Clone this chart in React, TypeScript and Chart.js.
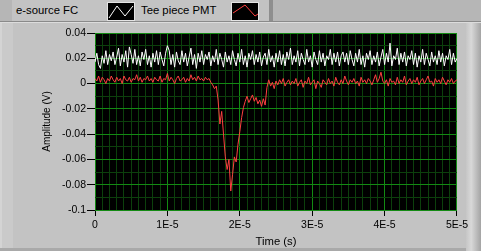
import React, { useEffect, useRef } from "react";
import { Chart, registerables } from "chart.js";

Chart.register(...registerables);

// ---- data ----
const seriesNames = ["e-source FC", "Tee piece PMT"];
const timeStep = 2.5e-7; // waveform dt (s)

const eSourceFC = [
  0.017, 0.024, 0.015, 0.012, 0.022, 0.016, 0.026, 0.015, 0.023, 0.018,
  0.025, 0.015, 0.021, 0.028, 0.014, 0.023, 0.017, 0.026, 0.013, 0.029,
  0.023, 0.016, 0.027, 0.015, 0.022, 0.014, 0.025, 0.019, 0.027, 0.015,
  0.022, 0.013, 0.024, 0.017, 0.026, 0.015, 0.025, 0.019, 0.014, 0.024,
  0.030, 0.026, 0.015, 0.023, 0.013, 0.025, 0.018, 0.015, 0.026, 0.017,
  0.024, 0.014, 0.021, 0.028, 0.015, 0.023, 0.012, 0.024, 0.017, 0.026,
  0.015, 0.023, 0.019, 0.025, 0.014, 0.022, 0.017, 0.027, 0.015, 0.024,
  0.019, 0.013, 0.025, 0.017, 0.022, 0.015, 0.026, 0.019, 0.014, 0.024,
  0.017, 0.027, 0.015, 0.022, 0.013, 0.024, 0.019, 0.026, 0.015, 0.023,
  0.017, 0.025, 0.014, 0.021, 0.024, 0.015, 0.027, 0.017, 0.022, 0.013,
  0.024, 0.017, 0.026, 0.015, 0.023, 0.014, 0.025, 0.019, 0.028, 0.015,
  0.022, 0.017, 0.026, 0.014, 0.024, 0.019, 0.015, 0.027, 0.017, 0.022,
  0.013, 0.025, 0.019, 0.015, 0.026, 0.017, 0.024, 0.014, 0.022, 0.019,
  0.027, 0.015, 0.024, 0.017, 0.025, 0.014, 0.022, 0.025, 0.017, 0.024,
  0.015, 0.026, 0.019, 0.014, 0.024, 0.017, 0.027, 0.015, 0.022, 0.013,
  0.024, 0.019, 0.026, 0.015, 0.022, 0.017, 0.025, 0.014, 0.021, 0.027,
  0.015, 0.024, 0.017, 0.032, 0.014, 0.022, 0.019, 0.028, 0.015, 0.024,
  0.017, 0.025, 0.014, 0.022, 0.019, 0.026, 0.015, 0.024, 0.013, 0.022,
  0.017, 0.027, 0.015, 0.024, 0.019, 0.014, 0.025, 0.017, 0.022, 0.015,
  0.026, 0.017, 0.024, 0.014, 0.022, 0.019, 0.027, 0.015, 0.024, 0.017,
  0.020,
];

const teePiecePMT = [
  0.004, 0.002, 0.006, 0.001, 0.005, 0.003, 0.000, 0.004, 0.002, 0.006,
  0.003, 0.001, 0.005, 0.002, 0.004, 0.000, 0.006, 0.003, 0.002, 0.005,
  0.001, 0.004, 0.003, 0.007, 0.002, 0.005, 0.001, 0.004, 0.003, 0.006,
  0.002, 0.004, 0.001, 0.005, 0.003, 0.002, 0.006, 0.001, 0.004, 0.003,
  0.008, 0.002, 0.005, 0.003, 0.000, 0.004, 0.006, 0.002, 0.003, 0.005,
  0.001, 0.004, 0.002, 0.007, 0.003, 0.005, 0.002, 0.006, 0.003, 0.004,
  0.002, 0.005, 0.003, 0.004, 0.001, -0.001, -0.004, -0.002, -0.013, -0.032,
  -0.022, -0.040, -0.058, -0.068, -0.060, -0.085, -0.072, -0.058, -0.062, -0.048,
  -0.038, -0.027, -0.019, -0.014, -0.010, -0.015, -0.012, -0.009, -0.014, -0.011,
  -0.016, -0.013, -0.018, -0.012, -0.017, -0.003, 0.003, -0.002, 0.001, -0.004,
  0.002, -0.001, 0.003, 0.000, 0.004, -0.002, 0.001, 0.003, -0.001, 0.002,
  0.000, 0.004, -0.002, 0.001, 0.003, -0.003, 0.002, 0.000, 0.005, -0.001,
  0.001, 0.003, -0.004, 0.002, 0.000, -0.003, 0.003, 0.001, -0.001, 0.004,
  0.000, 0.002, -0.002, 0.005, 0.001, -0.001, 0.003, 0.000, 0.006, 0.002,
  -0.001, 0.003, 0.001, 0.004, 0.000, 0.002, -0.002, 0.005, 0.001, 0.003,
  0.000, 0.004, 0.002, -0.001, 0.003, 0.007, 0.001, 0.004, 0.009, 0.002,
  0.000, 0.003, -0.002, 0.004, 0.001, 0.002, -0.001, 0.005, 0.000, 0.003,
  0.001, 0.006, -0.001, 0.002, 0.004, 0.000, 0.003, 0.001, 0.005, -0.001,
  0.002, 0.004, 0.000, 0.003, 0.006, 0.001, 0.002, -0.002, 0.004, 0.001,
  0.003, 0.000, 0.005, 0.002, -0.001, 0.003, 0.001, 0.004, 0.000, 0.002,
  0.003,
];

const xTickValues = [0, 1e-5, 2e-5, 3e-5, 4e-5, 5e-5];
const xTickLabels = ["0", "1E-5", "2E-5", "3E-5", "4E-5", "5E-5"];
const yTickValues = [0.04, 0.02, 0, -0.02, -0.04, -0.06, -0.08, -0.1];
const yTickLabels = ["0.04", "0.02", "0", "-0.02", "-0.04", "-0.06", "-0.08", "-0.1"];
const xMinorStep = 1e-6;
const yMinorStep = 0.01;

const seriesColors = ["#ffffff", "#ff4040"];
const FONT = '"Liberation Sans", Arial, sans-serif';
const MAJOR_GRID = "#138a13";
const MINOR_GRID = "#0c400c";

function findIdx(arr: number[], v: number, tol: number) {
  for (let i = 0; i < arr.length; i++) if (Math.abs(arr[i] - v) < tol) return i;
  return -1;
}

const plotBg = {
  id: "plotBg",
  beforeDraw(chart: any) {
    const { ctx, chartArea: a } = chart;
    ctx.save();
    ctx.fillStyle = "#000";
    ctx.fillRect(a.left, a.top, a.right - a.left, a.bottom - a.top);
    ctx.restore();
  },
};

function LegendIcon({ color, points }: { color: string; points: string }) {
  return (
    <div
      style={{
        position: "absolute",
        width: 26,
        height: 17,
        background: "#000",
        border: "1px solid #e4e4e4",
      }}
    >
      <svg width={26} height={17} style={{ display: "block" }}>
        <polyline points={points} fill="none" stroke={color} strokeWidth={1} />
      </svg>
    </div>
  );
}

export default function App() {
  const ref = useRef<HTMLCanvasElement | null>(null);

  useEffect(() => {
    if (!ref.current) return;
    const xMin = xTickValues[0];
    const xMax = xTickValues[xTickValues.length - 1];
    const yMax = yTickValues[0];
    const yMin = yTickValues[yTickValues.length - 1];

    const chart = new Chart(ref.current, {
      type: "line",
      data: {
        datasets: [
          {
            label: seriesNames[0],
            data: eSourceFC.map((v, i) => ({ x: i * timeStep, y: v })),
            borderColor: seriesColors[0],
            borderWidth: 1,
            pointRadius: 0,
            tension: 0,
          },
          {
            label: seriesNames[1],
            data: teePiecePMT.map((v, i) => ({ x: i * timeStep, y: v })),
            borderColor: seriesColors[1],
            borderWidth: 1,
            pointRadius: 0,
            tension: 0,
          },
        ],
      },
      options: {
        responsive: false,
        animation: false,
        layout: { padding: { left: 36, top: 33, right: 24, bottom: 2 } },
        plugins: { legend: { display: false }, tooltip: { enabled: false } },
        scales: {
          x: {
            type: "linear",
            min: xMin,
            max: xMax,
            afterBuildTicks: (s: any) => {
              const n = Math.round((xMax - xMin) / xMinorStep);
              const t = [];
              for (let k = 0; k <= n; k++) t.push({ value: xMin + k * xMinorStep });
              s.ticks = t;
            },
            afterFit: (s: any) => {
              s.height = 39;
            },
            ticks: {
              autoSkip: false,
              maxRotation: 0,
              color: "#000",
              padding: 3,
              font: { family: FONT, size: 10.5 },
              callback: (v: any) => {
                const i = findIdx(xTickValues, Number(v), 1e-9);
                return i >= 0 ? xTickLabels[i] : "";
              },
            },
            grid: {
              color: (c: any) =>
                findIdx(xTickValues, c.tick?.value, 1e-9) >= 0 ? MAJOR_GRID : MINOR_GRID,
              tickColor: (c: any) =>
                findIdx(xTickValues, c.tick?.value, 1e-9) >= 0 ? "#000" : "rgba(0,0,0,0)",
              tickLength: 6,
              lineWidth: 1,
            },
            border: { display: false },
            title: {
              display: true,
              text: "Time (s)",
              color: "#000",
              font: { family: FONT, size: 11.3 },
              padding: { top: 0, bottom: 0 },
            },
          },
          y: {
            type: "linear",
            min: yMin,
            max: yMax,
            afterBuildTicks: (s: any) => {
              const n = Math.round((yMax - yMin) / yMinorStep);
              const t = [];
              for (let k = 0; k <= n; k++) t.push({ value: yMin + k * yMinorStep });
              s.ticks = t;
            },
            afterFit: (s: any) => {
              s.width = 59;
            },
            ticks: {
              autoSkip: false,
              color: "#000",
              padding: 1,
              font: { family: FONT, size: 10.5 },
              callback: (v: any) => {
                const i = findIdx(yTickValues, Number(v), 1e-9);
                return i >= 0 ? yTickLabels[i] : "";
              },
            },
            grid: {
              color: (c: any) =>
                findIdx(yTickValues, c.tick?.value, 1e-9) >= 0 ? MAJOR_GRID : MINOR_GRID,
              tickColor: (c: any) =>
                findIdx(yTickValues, c.tick?.value, 1e-9) >= 0 ? "#000" : "rgba(0,0,0,0)",
              tickLength: 8,
              lineWidth: 1,
            },
            border: { display: false },
            title: {
              display: true,
              text: "Amplitude (V)",
              color: "#000",
              font: { family: FONT, size: 10 },
              padding: { top: 5, bottom: 0 },
            },
          },
        },
      },
      plugins: [plotBg],
    } as any);
    return () => chart.destroy();
  }, []);

  const textStyle: React.CSSProperties = {
    position: "absolute",
    top: 4,
    fontFamily: FONT,
    fontSize: 11.3,
    color: "#000",
    lineHeight: "13px",
    whiteSpace: "nowrap",
  };

  return (
    <div
      style={{
        position: "fixed",
        left: 0,
        top: 0,
        width: 481,
        height: 251,
        overflow: "hidden",
        background: "#b6b6b6",
      }}
    >
      {/* legend strip */}
      <div
        style={{
          position: "absolute",
          left: 12,
          top: 0,
          width: 257,
          height: 21,
          background: "#c3c3c3",
          borderRight: "4px solid #8e8e8e",
        }}
      />
      <div style={{ ...textStyle, left: 16 }}>{seriesNames[0]}</div>
      <div style={{ position: "absolute", left: 107, top: 2 }}>
        <LegendIcon color={seriesColors[0]} points="1,15 9,3 17,13 25,3" />
      </div>
      <div style={{ ...textStyle, left: 141 }}>{seriesNames[1]}</div>
      <div style={{ position: "absolute", left: 231, top: 2 }}>
        <LegendIcon color={seriesColors[1]} points="1,10 13,2 23,13 26,11" />
      </div>
      {/* graph panel */}
      <div style={{ position: "absolute", left: 0, top: 21, width: 481, height: 1, background: "#8a8a8a" }} />
      <div style={{ position: "absolute", left: 0, top: 22, width: 481, height: 1, background: "#dcdcdc" }} />
      <div style={{ position: "absolute", left: 0, top: 23, width: 466, height: 225, background: "#c3c3c3" }} />
      <div style={{ position: "absolute", left: 0, top: 23, width: 13, height: 225, background: "#cacaca", borderLeft: "2px solid #d4d4d4", boxSizing: "border-box" }} />
      <div
        style={{
          position: "absolute",
          left: 466,
          top: 23,
          width: 15,
          height: 228,
          background: "linear-gradient(to right, #c6c6c6, #d8d8d8 35%, #a4a4a4)",
        }}
      />
      <div style={{ position: "absolute", left: 0, top: 248, width: 466, height: 3, background: "#a9a9a9" }} />
      <canvas
        ref={ref}
        width={481}
        height={251}
        style={{ position: "absolute", left: 0, top: 0, width: 481, height: 251 }}
      />
    </div>
  );
}
